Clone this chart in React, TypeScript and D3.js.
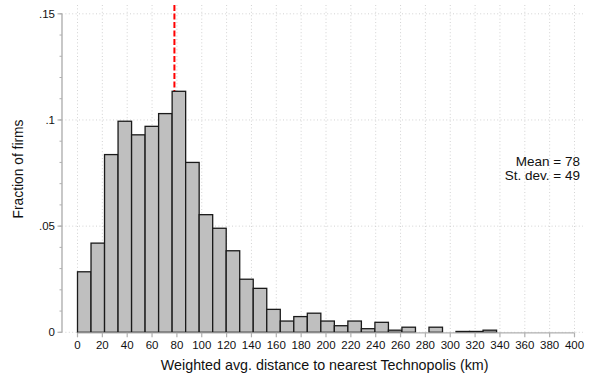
import React, { useEffect, useRef } from "react";
import * as d3 from "d3";

const binStart = 0;
const binWidth = 10.88;
const fractions = [
  0.0285, 0.042, 0.0837, 0.0994, 0.093, 0.097, 0.103, 0.1135, 0.08, 0.0554,
  0.049, 0.0384, 0.025, 0.0207, 0.0108, 0.0053, 0.0074, 0.009, 0.0053, 0.0031,
  0.0053, 0.0017, 0.0047, 0.001, 0.0024, 0, 0.0024, 0, 0.0004, 0.0004, 0.001,
];
const xTicks = d3.range(0, 401, 20);
const yMajor = [0, 0.05, 0.1, 0.15];
const yMajorLabels = ["0", ".05", ".1", ".15"];
const yMinor = d3.range(0, 0.1501, 0.01);
const meanValue = 78;
const sdValue = 49;

const W = 591;
const H = 377;
const FONT = "'Liberation Sans', Arial, Helvetica, sans-serif";

export default function App() {
  const ref = useRef<SVGSVGElement>(null);
  useEffect(() => {
    const svg = d3.select(ref.current);
    svg.selectAll("*").remove();
    const x = d3.scaleLinear().domain([0, 400]).range([77.5, 574.5]);
    const y = d3.scaleLinear().domain([0, 0.15]).range([332.3, 13.8]);
    const plotLeft = 62;
    const plotRight = 583;
    const plotTop = 5;
    const plotBottom = y(0);

    const bins = fractions.map((v, i) => ({
      v,
      x0: binStart + i * binWidth,
      x1: binStart + (i + 1) * binWidth,
    }));

    // gridlines
    const grid = svg.append("g").attr("stroke", "#c8c8c8").attr("stroke-width", 0.8).attr("stroke-dasharray", "1,2.4");
    grid.selectAll("line.v").data(xTicks).enter().append("line")
      .attr("x1", (d) => x(d)).attr("x2", (d) => x(d))
      .attr("y1", plotTop).attr("y2", plotBottom);
    grid.selectAll("line.h").data(yMajor).enter().append("line")
      .attr("x1", plotLeft).attr("x2", plotRight)
      .attr("y1", (d) => y(d)).attr("y2", (d) => y(d));

    // mean line
    svg.append("line")
      .attr("x1", x(meanValue)).attr("x2", x(meanValue))
      .attr("y1", plotTop).attr("y2", plotBottom)
      .attr("stroke", "#ff0000").attr("stroke-width", 2)
      .attr("stroke-dasharray", "6,2.5");

    // bars
    svg.append("g").selectAll("rect").data(bins.filter((b) => b.v > 0)).enter().append("rect")
      .attr("x", (d) => x(d.x0))
      .attr("width", (d) => x(d.x1) - x(d.x0))
      .attr("y", (d) => y(d.v))
      .attr("height", (d) => y(0) - y(d.v))
      .attr("fill", "#bfbfbf")
      .attr("stroke", "#1a1a1a")
      .attr("stroke-width", 1.3);

    // x axis
    const ax = svg.append("g");
    ax.append("line").attr("x1", x(0)).attr("x2", x(400)).attr("y1", plotBottom + 0.5).attr("y2", plotBottom + 0.5)
      .attr("stroke", "#b0b0b0").attr("stroke-width", 1.2);
    ax.selectAll("line.t").data(xTicks).enter().append("line")
      .attr("x1", (d) => x(d)).attr("x2", (d) => x(d))
      .attr("y1", plotBottom + 0.5).attr("y2", plotBottom + 5)
      .attr("stroke", "#b0b0b0").attr("stroke-width", 1.2);
    ax.selectAll("text").data(xTicks).enter().append("text")
      .attr("x", (d) => x(d)).attr("y", 348.5)
      .attr("text-anchor", "middle").attr("font-size", 11.5).attr("font-family", FONT).attr("fill", "#111")
      .text((d) => String(d));

    // y axis
    const ay = svg.append("g");
    ay.append("line").attr("x1", plotLeft).attr("x2", plotLeft).attr("y1", y(0.15)).attr("y2", plotBottom)
      .attr("stroke", "#b0b0b0").attr("stroke-width", 1.4);
    ay.selectAll("line.m").data(yMinor).enter().append("line")
      .attr("x1", plotLeft - 2.5).attr("x2", plotLeft).attr("y1", (d) => y(d)).attr("y2", (d) => y(d))
      .attr("stroke", "#b0b0b0").attr("stroke-width", 1);
    ay.selectAll("line.M").data(yMajor).enter().append("line")
      .attr("x1", plotLeft - 4.5).attr("x2", plotLeft).attr("y1", (d) => y(d)).attr("y2", (d) => y(d))
      .attr("stroke", "#b0b0b0").attr("stroke-width", 1.2);
    ay.selectAll("text").data(yMajor).enter().append("text")
      .attr("x", 55).attr("y", (d) => y(d) + 4)
      .attr("text-anchor", "end").attr("font-size", 11.5).attr("font-family", FONT).attr("fill", "#111")
      .text((_, i) => yMajorLabels[i]);

    // titles
    svg.append("text").attr("x", 324.7).attr("y", 370).attr("text-anchor", "middle")
      .attr("font-size", 14.3).attr("font-family", FONT).attr("fill", "#111")
      .text("Weighted avg. distance to nearest Technopolis (km)");
    svg.append("text").attr("transform", "translate(23,169) rotate(-90)").attr("text-anchor", "middle")
      .attr("font-size", 13.8).attr("font-family", FONT).attr("fill", "#111")
      .text("Fraction of firms");

    // stats
    svg.append("text").attr("x", 580).attr("y", 165.5).attr("text-anchor", "end")
      .attr("font-size", 13.5).attr("font-family", FONT).attr("fill", "#111")
      .text(`Mean = ${meanValue}`);
    svg.append("text").attr("x", 580).attr("y", 179.5).attr("text-anchor", "end")
      .attr("font-size", 13.5).attr("font-family", FONT).attr("fill", "#111")
      .text(`St. dev. = ${sdValue}`);
  }, []);
  return (
    <svg ref={ref} width={W} height={H} style={{ position: "absolute", left: 0, top: 0, background: "#fff" }} />
  );
}
